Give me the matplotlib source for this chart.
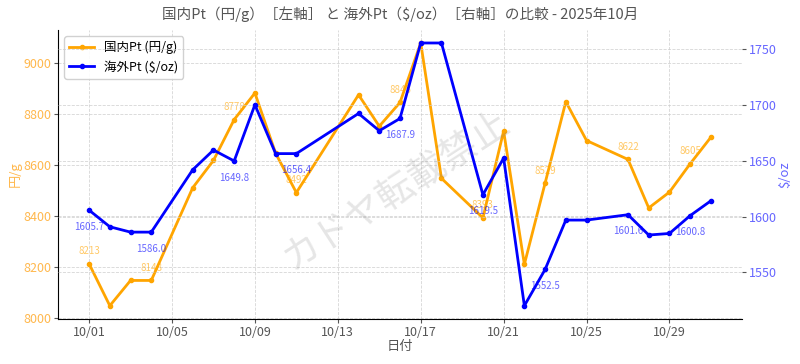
import matplotlib

matplotlib.use("Agg")
import matplotlib.pyplot as plt
import matplotlib.dates as mdates
import pandas as pd

plt.rcParams["font.family"] = ["Noto Sans CJK JP", "DejaVu Sans"]

# Data
dates = ["2025-10-01", "2025-10-02", "2025-10-03", "2025-10-04", "2025-10-06",
         "2025-10-07", "2025-10-08", "2025-10-09", "2025-10-10", "2025-10-11",
         "2025-10-14", "2025-10-15", "2025-10-16", "2025-10-17", "2025-10-18",
         "2025-10-20", "2025-10-21", "2025-10-22", "2025-10-23", "2025-10-24",
         "2025-10-25", "2025-10-27", "2025-10-28", "2025-10-29", "2025-10-30",
         "2025-10-31"]
jp_pt = [8213, 8049, 8148, 8148, 8511, 8618, 8778, 8882, 8646, 8492,
         8875, 8752, 8845, 9078, 8548, 8393, 8733, 8211, 8529, 8848,
         8696, 8622, 8432, 8494, 8605, 8709]
us_pt = [1605.7, 1590.8, 1586.0, 1586.0, 1641.9, 1659.6, 1649.8, 1700.2, 1656.4, 1656.4,
         1692.4, 1676.9, 1687.9, 1755.6, 1755.6, 1619.5, 1652.4, 1520.0, 1552.5, 1596.8,
         1596.8, 1601.6, 1583.4, 1584.8, 1600.8, 1614.1]
tick_dates = ["2025-10-01", "2025-10-05", "2025-10-09", "2025-10-13", "2025-10-17",
              "2025-10-21", "2025-10-25", "2025-10-29"]

x = pd.to_datetime(dates)

fig, ax = plt.subplots(figsize=(8, 3.64), dpi=100)
fig.subplots_adjust(left=0.0725, right=0.9275, top=0.918, bottom=0.124)
ax2 = ax.twinx()

l1, = ax.plot(x, jp_pt, color="orange", lw=2, marker="o", ms=3, label="国内Pt (円/g)")
l2, = ax2.plot(x, us_pt, color="blue", lw=2, marker="o", ms=3, label="海外Pt ($/oz)")

# value labels on every third point
for i in range(0, len(x), 3):
    ax.annotate(f"{jp_pt[i]}", (x[i], jp_pt[i]), xytext=(0, 9), textcoords="offset points",
                ha="center", va="center", fontsize=7, color="orange", alpha=0.6)
    ax2.annotate(f"{us_pt[i]:.1f}", (x[i], us_pt[i]), xytext=(0, -12), textcoords="offset points",
                 ha="center", va="center", fontsize=7, color="blue", alpha=0.6)

# axes styling
ax.set_title("国内Pt（円/g）［左軸］ と 海外Pt（$/oz）［右軸］の比較 - 2025年10月",
             fontsize=10.5, color="#555555", pad=8)
ax.set_xlabel("日付", color="#555555", fontsize=9.5, labelpad=1)
ax.set_ylabel("円/g", color="#FFB84D", fontsize=9.5, labelpad=1)
ax2.set_ylabel("$/oz", color="#6666FF", fontsize=9.5, labelpad=1)
ax.tick_params(axis="y", labelcolor="#FFB84D", labelsize=9, color="#555555", pad=2, length=3)
ax2.tick_params(axis="y", labelcolor="#6666FF", labelsize=9, color="#555555", pad=2, length=3)
ax.tick_params(axis="x", labelcolor="#555555", labelsize=9, color="#555555", pad=2, length=3)

ax.set_xticks(pd.to_datetime(tick_dates))
ax.xaxis.set_major_formatter(mdates.DateFormatter("%m/%d"))

ax.grid(True, ls="--", lw=0.6, color="#cccccc", alpha=0.8)
ax2.grid(True, axis="y", ls="--", lw=0.6, color="#cccccc", alpha=0.8)

for a in (ax, ax2):
    a.spines["top"].set_visible(False)
    a.spines["right"].set_visible(False)
ax2.spines["left"].set_visible(False)
ax2.spines["bottom"].set_visible(False)

ax.legend(handles=[l1, l2], loc="upper left", fontsize=9, framealpha=0.9)

# watermark
fig.text(0.496, 0.478, "カドヤ転載禁止", fontsize=27, color="gray", alpha=0.2,
         rotation=33, ha="center", va="center")

fig.savefig("out.png", dpi=100)
